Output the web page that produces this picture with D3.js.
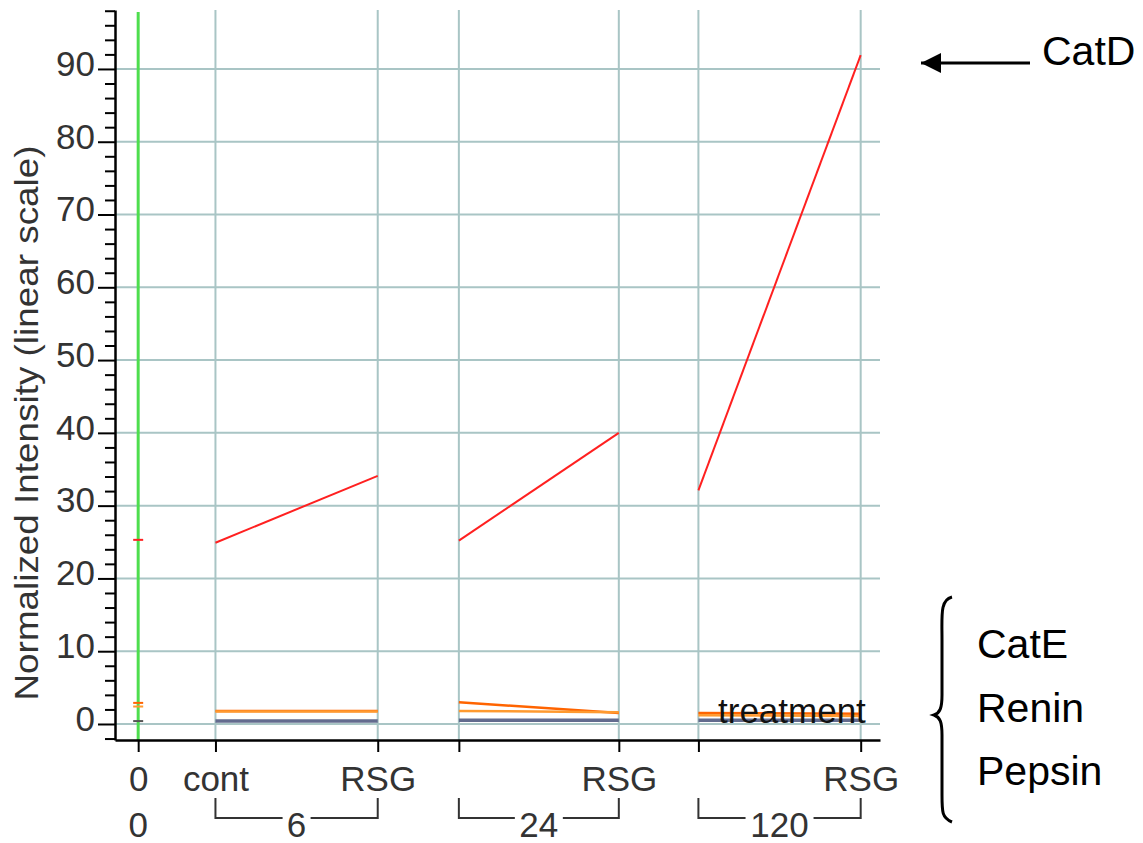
<!DOCTYPE html>
<html lang="en">
<head>
  <meta charset="UTF-8">
  <title>Normalized Intensity</title>
  <script src="https://cdn.jsdelivr.net/npm/d3@7"></script>
  <style>
    body { margin: 0; background: #fff; }
    svg { font-family: "Liberation Sans", Arial, sans-serif; }
  </style>
</head>
<body>
  <svg class="svg"></svg>
  <script>
    // columns along x: time 0, then cont / RSG for 6, 24, 120
    const slots = ['0', '6 cont', '6 RSG', '24 cont', '24 RSG', '120 cont', '120 RSG'];
    const slotPos = [0, 1, 3.1, 4.15, 6.22, 7.25, 9.35];
    const slotLabels = ['0', 'cont', 'RSG', '', 'RSG', '', 'RSG'];
    const timeGroups = ['6', '24', '120'];
    const groupSlots = [[1, 2], [3, 4], [5, 6]];

    const yTicks = [0, 10, 20, 30, 40, 50, 60, 70, 80, 90];

    // values per slot
    const catD   = [25.3, 24.9, 34.1, 25.2, 40.0, 32.1, 91.9];
    const catE   = [2.9, 1.8, 1.8, 3.0, 1.5, 1.5, 1.4];
    const renin  = [2.4, 1.7, 1.7, 1.8, 1.6, 1.2, 1.1];
    const pepsin = [0.4, 0.4, 0.4, 0.5, 0.5, 0.5, 0.5];

    const seriesNames = ['CatD', 'CatE', 'Renin', 'Pepsin'];
    const seriesVals = [catD, catE, renin, pepsin];
    const seriesColor = ['#ff2020', '#ff6400', '#ff9a30', '#636b8e'];
    const seriesWidth = [2, 2.5, 2.5, 3.5];

    const w = 1143, h = 843;
    const pLeft = 115, pRight = 880, pTop = 10, pBottom = 740;

    const xScale = d3.scaleLinear().domain([-0.3, 9.6]).range([pLeft, pRight]);
    const yScale = d3.scaleLinear().domain([-2.2, 98.1]).range([pBottom, pTop]);

    const svg = d3.select('.svg').attr('width', w).attr('height', h);

    // grid
    svg.append('g').selectAll('line').data(yTicks).enter().append('line')
      .attr('x1', pLeft).attr('x2', pRight)
      .attr('y1', d => yScale(d)).attr('y2', d => yScale(d))
      .attr('stroke', '#a9c5c5').attr('stroke-width', 2);
    svg.append('g').selectAll('line').data(slotPos.slice(1)).enter().append('line')
      .attr('x1', d => xScale(d)).attr('x2', d => xScale(d))
      .attr('y1', pTop).attr('y2', pBottom)
      .attr('stroke', '#a9c5c5').attr('stroke-width', 2);

    // green marker line at time 0
    svg.append('line')
      .attr('x1', xScale(0)).attr('x2', xScale(0))
      .attr('y1', pTop + 2).attr('y2', pBottom)
      .attr('stroke', '#4ede4e').attr('stroke-width', 3);

    // y axis (major + minor ticks)
    const minor = d3.range(-2, 98.1, 2).filter(v => v % 10 !== 0);
    svg.append('g')
      .attr('transform', 'translate(' + pLeft + ',0)')
      .call(d3.axisLeft(yScale).tickValues(minor).tickSize(10).tickFormat(''))
      .call(g => g.select('.domain').remove())
      .call(g => g.selectAll('line').attr('stroke', '#000').attr('stroke-width', 2));
    const yAxis = svg.append('g')
      .attr('transform', 'translate(' + pLeft + ',0)')
      .call(d3.axisLeft(yScale).tickValues(yTicks).tickSize(17).tickPadding(3).tickSizeOuter(0));
    yAxis.select('.domain').attr('stroke', '#000').attr('stroke-width', 2.5);
    yAxis.selectAll('line').attr('stroke', '#000').attr('stroke-width', 2);
    yAxis.selectAll('text')
      .attr('font-size', 35).attr('fill', '#333')
      .attr('font-family', '"Liberation Sans", Arial, sans-serif')
      .attr('dy', '0.18em');

    svg.append('text')
      .attr('transform', 'translate(38,' + 423 + ') rotate(-90)')
      .attr('text-anchor', 'middle')
      .attr('font-size', 33).attr('fill', '#333')
      .attr('textLength', 555).attr('lengthAdjust', 'spacingAndGlyphs')
      .text('Normalized Intensity (linear scale)');

    // x axis
    const xAxis = svg.append('g')
      .attr('transform', 'translate(0,' + pBottom + ')')
      .call(d3.axisBottom(xScale).tickValues(slotPos).tickSize(12).tickSizeOuter(0)
        .tickFormat((d, i) => slotLabels[i]).tickPadding(14));
    xAxis.select('.domain').attr('stroke', '#000').attr('stroke-width', 2.5);
    xAxis.selectAll('line').attr('stroke', '#000').attr('stroke-width', 2);
    xAxis.selectAll('text')
      .attr('font-size', 35).attr('fill', '#333')
      .attr('font-family', '"Liberation Sans", Arial, sans-serif')
      .attr('dy', '0.71em');

    // second row: time groups with brackets
    svg.append('text')
      .attr('x', xScale(0)).attr('y', 837)
      .attr('text-anchor', 'middle').attr('font-size', 35).attr('fill', '#333')
      .text('0');
    timeGroups.forEach((lab, i) => {
      const x0 = xScale(slotPos[groupSlots[i][0]]);
      const x1 = xScale(slotPos[groupSlots[i][1]]);
      const xm = (x0 + x1) / 2;
      const half = lab.length * 10 + 4;
      const g = svg.append('g').attr('stroke', '#333').attr('stroke-width', 2).attr('fill', 'none');
      g.append('path').attr('d', 'M' + x0 + ',798V818H' + (xm - half));
      g.append('path').attr('d', 'M' + (xm + half) + ',818H' + x1 + 'V798');
      svg.append('text')
        .attr('x', xm).attr('y', 837)
        .attr('text-anchor', 'middle').attr('font-size', 35).attr('fill', '#333')
        .text(lab);
    });

    // series: time 0 dashes, then one segment per group
    const line = d3.line().x(d => xScale(d[0])).y(d => yScale(d[1]));
    seriesVals.forEach((vals, s) => {
      svg.append('line')
        .attr('x1', xScale(0) - 5).attr('x2', xScale(0) + 5)
        .attr('y1', yScale(vals[0])).attr('y2', yScale(vals[0]))
        .attr('stroke', s === 3 ? '#555' : seriesColor[s]).attr('stroke-width', 2);
      groupSlots.forEach(gs => {
        svg.append('path')
          .datum(gs.map(i => [slotPos[i], vals[i]]))
          .attr('d', line)
          .attr('fill', 'none')
          .attr('stroke', seriesColor[s])
          .attr('stroke-width', seriesWidth[s]);
      });
    });

    svg.append('text')
      .attr('x', 718).attr('y', 723)
      .attr('font-size', 35).attr('fill', '#111')
      .text('treatment');

    // annotations on the right
    svg.append('defs').append('marker')
      .attr('id', 'arrow').attr('viewBox', '0 0 10 10')
      .attr('refX', 10).attr('refY', 5)
      .attr('markerWidth', 28).attr('markerHeight', 20)
      .attr('markerUnits', 'userSpaceOnUse')
      .attr('orient', 'auto')
      .append('path').attr('d', 'M0,0L10,5L0,10Z').attr('fill', '#000');
    svg.append('line')
      .attr('x1', 1030).attr('x2', 921).attr('y1', 63).attr('y2', 63)
      .attr('stroke', '#000').attr('stroke-width', 3)
      .attr('marker-end', 'url(#arrow)');
    svg.append('text')
      .attr('x', 1042).attr('y', 65)
      .attr('font-size', 41).attr('fill', '#000')
      .text(seriesNames[0]);

    svg.append('path')
      .attr('d', 'M952,597 C940,600 942,615 942,640 L942,695 C942,708 940,713 934,715 C940,717 942,722 942,735 L942,795 C942,812 942,818 952,822')
      .attr('fill', 'none').attr('stroke', '#000').attr('stroke-width', 3);

    const restY = [658, 722, 785];
    seriesNames.slice(1).forEach((n, i) => {
      svg.append('text')
        .attr('x', 977).attr('y', restY[i])
        .attr('font-size', 41).attr('fill', '#000')
        .text(n);
    });
  </script>
</body>
</html>
